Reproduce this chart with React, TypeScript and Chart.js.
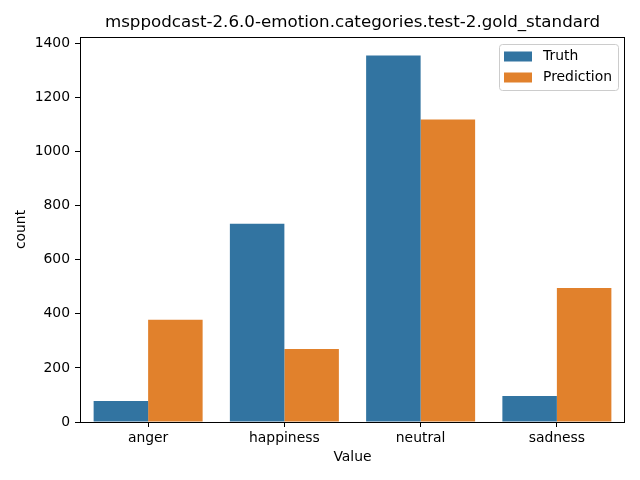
import React, { useEffect, useRef } from "react";
import { Chart, registerables } from "chart.js";

Chart.register(...registerables);

const categories = ["anger", "happiness", "neutral", "sadness"];
const truthValues = [78, 733, 1356, 96];
const predictionValues = [378, 270, 1119, 496];
const yTicks = [0, 200, 400, 600, 800, 1000, 1200, 1400];
const seriesNames = ["Truth", "Prediction"];
const seriesColors = ["#3274a1", "#e1812c"];
const titleText = "msppodcast-2.6.0-emotion.categories.test-2.gold_standard";

const FONT = "'DejaVu Sans', sans-serif";

const framePlugin = {
  id: "frameAndLegend",
  afterDraw(chart: any) {
    const { ctx, chartArea } = chart;
    ctx.save();
    ctx.strokeStyle = "#000";
    ctx.lineWidth = 1;
    ctx.strokeRect(
      Math.round(chartArea.left) + 0.5,
      Math.round(chartArea.top) + 0.5,
      Math.round(chartArea.right - chartArea.left) - 1,
      Math.round(chartArea.bottom - chartArea.top)
    );
    // title centred over the axes
    ctx.fillStyle = "#000";
    ctx.font = `16.7px ${FONT}`;
    ctx.textAlign = "center";
    ctx.textBaseline = "middle";
    ctx.fillText(titleText, (chartArea.left + chartArea.right) / 2, 23);
    // legend
    const lx = 499.5, ly = 44.5, lw = 119, lh = 46, r = 3;
    ctx.beginPath();
    ctx.moveTo(lx + r, ly);
    ctx.lineTo(lx + lw - r, ly);
    ctx.quadraticCurveTo(lx + lw, ly, lx + lw, ly + r);
    ctx.lineTo(lx + lw, ly + lh - r);
    ctx.quadraticCurveTo(lx + lw, ly + lh, lx + lw - r, ly + lh);
    ctx.lineTo(lx + r, ly + lh);
    ctx.quadraticCurveTo(lx, ly + lh, lx, ly + lh - r);
    ctx.lineTo(lx, ly + r);
    ctx.quadraticCurveTo(lx, ly, lx + r, ly);
    ctx.closePath();
    ctx.fillStyle = "rgba(255,255,255,0.8)";
    ctx.fill();
    ctx.strokeStyle = "#cccccc";
    ctx.stroke();
    ctx.font = `13.9px ${FONT}`;
    ctx.textBaseline = "middle";
    ctx.textAlign = "left";
    seriesNames.forEach((name, i) => {
      const cy = 56.5 + i * 21;
      ctx.fillStyle = seriesColors[i];
      ctx.fillRect(504, cy - 5, 28, 10);
      ctx.fillStyle = "#000";
      ctx.fillText(name, 543, cy);
    });
    ctx.restore();
  },
};

export default function App() {
  const ref = useRef<HTMLCanvasElement>(null);
  useEffect(() => {
    if (!ref.current) return;
    const chart = new Chart(ref.current, {
      type: "bar",
      data: {
        labels: categories,
        datasets: [
          {
            label: seriesNames[0],
            data: truthValues,
            backgroundColor: seriesColors[0],
            borderWidth: 0,
            categoryPercentage: 0.8,
            barPercentage: 1.0,
          },
          {
            label: seriesNames[1],
            data: predictionValues,
            backgroundColor: seriesColors[1],
            borderWidth: 0,
            categoryPercentage: 0.8,
            barPercentage: 1.0,
          },
        ],
      },
      options: {
        responsive: false,
        animation: false,
        layout: { padding: { left: 0, right: 15, top: 37, bottom: 0 } },
        plugins: {
          legend: { display: false },
          tooltip: { enabled: false },
          title: { display: false },
        },
        scales: {
          x: {
            grid: {
              offset: false,
              drawOnChartArea: false,
              drawTicks: true,
              tickLength: 5,
              tickColor: "#000",
              color: "#000",
            },
            border: { display: false },
            ticks: {
              color: "#000",
              font: { family: FONT, size: 13.9 },
              padding: 3,
              maxRotation: 0,
            },
            title: {
              display: true,
              text: "Value",
              color: "#000",
              font: { family: FONT, size: 13.9 },
              padding: { top: 0, bottom: 14 },
            },
            afterFit(scale: any) {
              scale.height = 58;
            },
          },
          y: {
            min: 0,
            max: 1424,
            grid: {
              drawOnChartArea: false,
              drawTicks: true,
              tickLength: 5,
              tickColor: "#000",
              color: "#000",
            },
            border: { display: false },
            ticks: {
              stepSize: 200,
              color: "#000",
              font: { family: FONT, size: 13.9 },
              padding: 5,
              callback: (v: any) => String(v),
            },
            afterBuildTicks(scale: any) {
              scale.ticks = yTicks.map((v) => ({ value: v }));
            },
            title: {
              display: true,
              text: "count",
              color: "#000",
              font: { family: FONT, size: 13.9 },
              padding: { top: 13, bottom: 0 },
            },
            afterFit(scale: any) {
              scale.width = 80;
            },
          },
        },
      },
      plugins: [framePlugin],
    });
    return () => chart.destroy();
  }, []);
  return (
    <div style={{ position: "fixed", left: 0, top: 0, width: 640, height: 480, background: "#fff" }}>
      <canvas ref={ref} width={640} height={480} />
    </div>
  );
}
